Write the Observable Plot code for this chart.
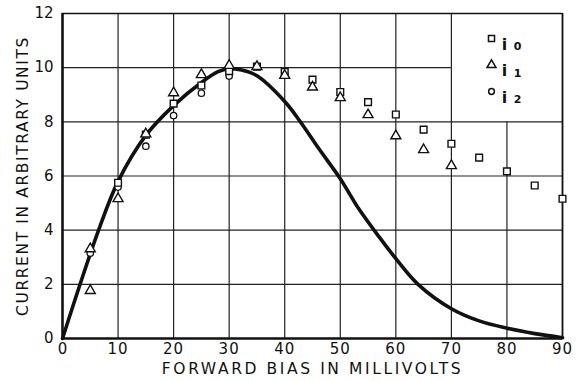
<!DOCTYPE html>
<html><head><meta charset="utf-8">
<script src="https://cdn.jsdelivr.net/npm/d3@7"></script>
<script src="https://cdn.jsdelivr.net/npm/@observablehq/plot@0.6"></script>
<style>body{margin:0;background:#fff}svg{display:block}</style>
</head><body><div id="chart"></div>
<script>
const xTicks = [0, 10, 20, 30, 40, 50, 60, 70, 80, 90];
const yTicks = [0, 2, 4, 6, 8, 10, 12];

const i0Bias = [10, 15, 20, 25, 30, 35, 40, 45, 50, 55, 60, 65, 70, 75, 80, 85, 90];
const i0Current = [5.75, 7.53, 8.67, 9.34, 9.87, 10.04, 9.84, 9.56, 9.10, 8.73, 8.27, 7.71, 7.19, 6.68, 6.17, 5.65, 5.16];

const i1Bias = [5, 5, 10, 15, 20, 25, 30, 35, 40, 45, 50, 55, 60, 65, 70];
const i1Current = [3.31, 1.77, 5.16, 7.55, 9.07, 9.74, 10.08, 10.04, 9.71, 9.28, 8.89, 8.26, 7.48, 6.97, 6.38];

const i2Bias = [5, 10, 15, 20, 25, 30];
const i2Current = [3.15, 5.59, 7.10, 8.23, 9.06, 9.69];

const curveBias = [0, 3, 6.5, 10, 15, 20, 25, 28, 30, 32, 35, 40, 43, 46, 50, 53.3, 57, 60, 64, 70, 75, 80, 85, 90];
const curveCurrent = [0, 1.9, 4.0, 5.8, 7.5, 8.6, 9.45, 9.85, 9.96, 9.92, 9.7, 8.75, 7.95, 7.05, 5.9, 4.8, 3.75, 2.95, 2.0, 1.1, 0.65, 0.38, 0.18, 0.03];

const seriesSymbols = ["square", "triangle", "circle"];
const seriesDigits = ["0", "1", "2"];

const xTitle = "FORWARD BIAS IN MILLIVOLTS";
const yTitle = "CURRENT IN ARBITRARY UNITS";

const toPts = (xs, ys) => xs.map((x, i) => ({x, y: ys[i]}));
const font = "DejaVu Sans, sans-serif";
const ink = "#111";

const xMax = xTicks[xTicks.length - 1], yMax = yTicks[yTicks.length - 1];
const legendLeft = xTicks[7], legendBottom = yTicks[4];
const symR = {square: 3.8, triangle: 3.7, circle: 3.2};

const legendMarks = seriesSymbols.flatMap((s, i) => [
  Plot.dot([0], {frameAnchor: "top-right", dx: -71, dy: 25 + i * 26.5, symbol: s,
    r: symR[s] * 0.9, fill: "white", stroke: ink, strokeWidth: 1.5}),
  Plot.text(["i"], {frameAnchor: "top-right", dx: -58, dy: 25 + i * 26.5, fontSize: 16, fontWeight: "bold", fill: ink, textAnchor: "middle"}),
  Plot.text([seriesDigits[i]], {frameAnchor: "top-right", dx: -45, dy: 29 + i * 26.5, fontSize: 11, fontWeight: "bold", fill: ink, textAnchor: "middle"})
]);

const chart = Plot.plot({
  width: 581,
  height: 381,
  marginLeft: 62,
  marginRight: 19,
  marginTop: 13,
  marginBottom: 43,
  style: {fontFamily: font, color: ink, background: "white"},
  x: {domain: [0, xMax]},
  y: {domain: [0, yMax]},
  marks: [
    Plot.ruleY(yTicks.filter(v => v > 0 && v < yMax), {x1: 0, x2: d => d > legendBottom ? legendLeft : xMax, stroke: "#222", strokeWidth: 1.2}),
    Plot.ruleX(xTicks.filter(v => v > 0 && v < xMax), {y1: 0, y2: d => d > legendLeft ? legendBottom : yMax, stroke: "#222", strokeWidth: 1.2}),
    Plot.ruleX([xMax], {stroke: ink, strokeWidth: 1.8}),
    Plot.ruleY([yMax], {stroke: ink, strokeWidth: 1.6}),
    Plot.ruleX([0], {stroke: ink, strokeWidth: 2.6}),
    Plot.ruleY([0], {stroke: ink, strokeWidth: 2.6}),
    Plot.line(toPts(curveBias, curveCurrent), {x: "x", y: "y", curve: "catmull-rom", stroke: ink, strokeWidth: 3.6}),
    Plot.dot(toPts(i2Bias, i2Current), {x: "x", y: "y", symbol: "circle", r: symR.circle, fill: "white", stroke: ink, strokeWidth: 1.3}),
    Plot.dot(toPts(i0Bias, i0Current), {x: "x", y: "y", symbol: "square", r: symR.square, fill: "white", stroke: ink, strokeWidth: 1.4}),
    Plot.dot(toPts(i1Bias, i1Current), {x: "x", y: "y", symbol: "triangle", r: symR.triangle, fill: "white", stroke: ink, strokeWidth: 1.4}),
    Plot.axisX({ticks: xTicks, tickSize: 0, tickPadding: 5, fontSize: 15, label: null, tickFormat: d => String(d)}),
    Plot.axisY({ticks: yTicks, tickSize: 0, tickPadding: 9, fontSize: 15, label: null, tickFormat: d => String(d)}),
    Plot.text([xTitle], {frameAnchor: "bottom", dy: 31, fontSize: 15.5, fill: ink, textAnchor: "middle", lineAnchor: "middle"}),
    Plot.text([yTitle], {frameAnchor: "left", dx: -39, rotate: -90, fontSize: 15.5, fill: ink, textAnchor: "middle", lineAnchor: "middle"}),
    ...legendMarks
  ]
});
const svg = d3.select(chart);
svg.selectAll("text").each(function() {
  const t = this.textContent;
  if (t === xTitle) d3.select(this).style("letter-spacing", "2.6px");
  else if (t === yTitle) d3.select(this).style("letter-spacing", "1.6px");
  else if (/^\d+$/.test(t) && t.length === 2 && this.closest("[aria-label='x-axis tick label']")) d3.select(this).style("letter-spacing", "1px");
});
document.getElementById("chart").appendChild(chart);
</script>
</body></html>
